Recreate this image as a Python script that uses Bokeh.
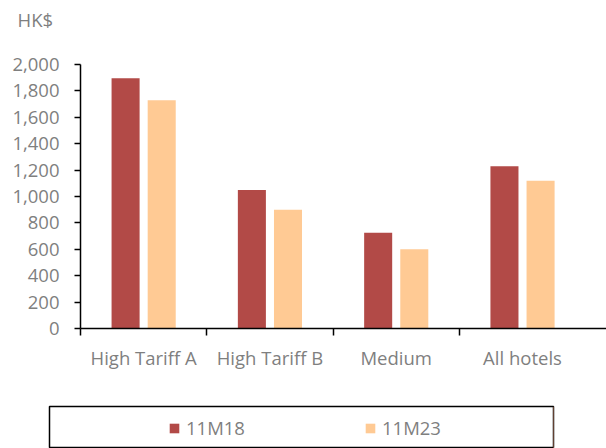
from bokeh.plotting import figure
from bokeh.layouts import column
from bokeh.models import (ColumnDataSource, Range1d, FixedTicker, NumeralTickFormatter,
                          Legend, LegendItem, Label)
from bokeh.embed import file_html
from bokeh.resources import INLINE

categories = ["High Tariff A", "High Tariff B", "Medium", "All hotels"]
series_names = ["11M18", "11M23"]
values_11m18 = [1895, 1050, 725, 1230]
values_11m23 = [1730, 900, 600, 1120]
y_ticks = [0, 200, 400, 600, 800, 1000, 1200, 1400, 1600, 1800, 2000]
unit_label = "HK$"

colors = ["#B24A47", "#FFCA94"]
FONT = "Open Sans"
TXT = "#7F7F7F"
FS = "18.5px"

n = len(categories)
centers = [i + 0.5 for i in range(n)]
bar_w = 0.222
off = 0.143

# header strip holding the unit label
hd = figure(width=606, height=40, output_backend="svg", toolbar_location=None,
            x_range=Range1d(0, 606), y_range=Range1d(0, 40),
            x_axis_location=None, y_axis_location=None,
            min_border_left=0, min_border_right=0, min_border_top=0, min_border_bottom=0)
hd.frame_align = False
hd.outline_line_color = None
hd.xgrid.visible = False
hd.ygrid.visible = False
hd.add_layout(Label(x=17, y=21, text=unit_label, text_font=FONT, text_font_size=FS,
                    text_color=TXT, text_baseline="alphabetic"))

p = figure(width=606, height=360, output_backend="svg", toolbar_location=None,
           x_range=Range1d(0, 4.165), y_range=Range1d(0, 2000),
           min_border_left=80, min_border_right=0, min_border_top=24, min_border_bottom=72)
p.frame_align = False
p.outline_line_color = None
p.xgrid.visible = False
p.ygrid.visible = False

src = ColumnDataSource(dict(
    x1=[c - off for c in centers], x2=[c + off for c in centers],
    v1=values_11m18, v2=values_11m23))
r1 = p.vbar(x="x1", top="v1", width=bar_w, source=src, fill_color=colors[0], line_color=None)
r2 = p.vbar(x="x2", top="v2", width=bar_w, source=src, fill_color=colors[1], line_color=None)

# y axis
ya = p.yaxis[0]
ya.ticker = FixedTicker(ticks=y_ticks)
ya.formatter = NumeralTickFormatter(format="0,0")
ya.axis_line_color = "black"
ya.axis_line_width = 1.5
ya.major_tick_line_color = "black"
ya.major_tick_line_width = 1.5
ya.major_tick_out = 6
ya.major_tick_in = 0
ya.minor_tick_line_color = None
ya.major_label_standoff = 15
ya.major_label_text_font = FONT
ya.major_label_text_font_size = FS
ya.major_label_text_color = TXT

# x axis
xa = p.xaxis[0]
xa.ticker = FixedTicker(ticks=centers, minor_ticks=list(range(n)))
xa.major_label_overrides = {c: lab for c, lab in zip(centers, categories)}
xa.axis_line_color = "black"
xa.axis_line_width = 1.5
xa.major_tick_line_color = None
xa.major_tick_out = 0
xa.major_tick_in = 0
xa.minor_tick_line_color = "black"
xa.minor_tick_line_width = 1.5
xa.minor_tick_out = 7
xa.minor_tick_in = 0
xa.major_label_standoff = 9
xa.major_label_text_font = FONT
xa.major_label_text_font_size = FS
xa.major_label_text_color = TXT

# legend panel (boxed)
lf = figure(width=606, height=48, output_backend="svg", toolbar_location=None,
            x_range=Range1d(0, 1), y_range=Range1d(0, 1),
            x_axis_location=None, y_axis_location=None,
            min_border_left=49, min_border_right=53, min_border_top=6, min_border_bottom=0)
lf.frame_align = False
lf.xgrid.visible = False
lf.ygrid.visible = False
lf.outline_line_color = "black"
lf.outline_line_width = 1.5
# swatch renderers kept outside the visible range; they only supply legend glyph styles
hidden = ColumnDataSource(dict(x=[5], top=[5]))
l1 = lf.vbar(x="x", top="top", width=0.1, source=hidden, fill_color=colors[0], line_color=None)
l2 = lf.vbar(x="x", top="top", width=0.1, source=hidden, fill_color=colors[1], line_color=None)
legend = Legend(items=[LegendItem(label=series_names[0], renderers=[l1]),
                       LegendItem(label=series_names[1], renderers=[l2])],
                orientation="horizontal", location=(119, 8),
                glyph_width=12, glyph_height=12, label_standoff=6, label_width=60,
                spacing=118, padding=0, margin=0,
                border_line_color=None, background_fill_alpha=0,
                label_text_font=FONT, label_text_font_size=FS, label_text_color=TXT)
lf.add_layout(legend)

open("out.html", "w").write(file_html(column(hd, p, lf), INLINE))
